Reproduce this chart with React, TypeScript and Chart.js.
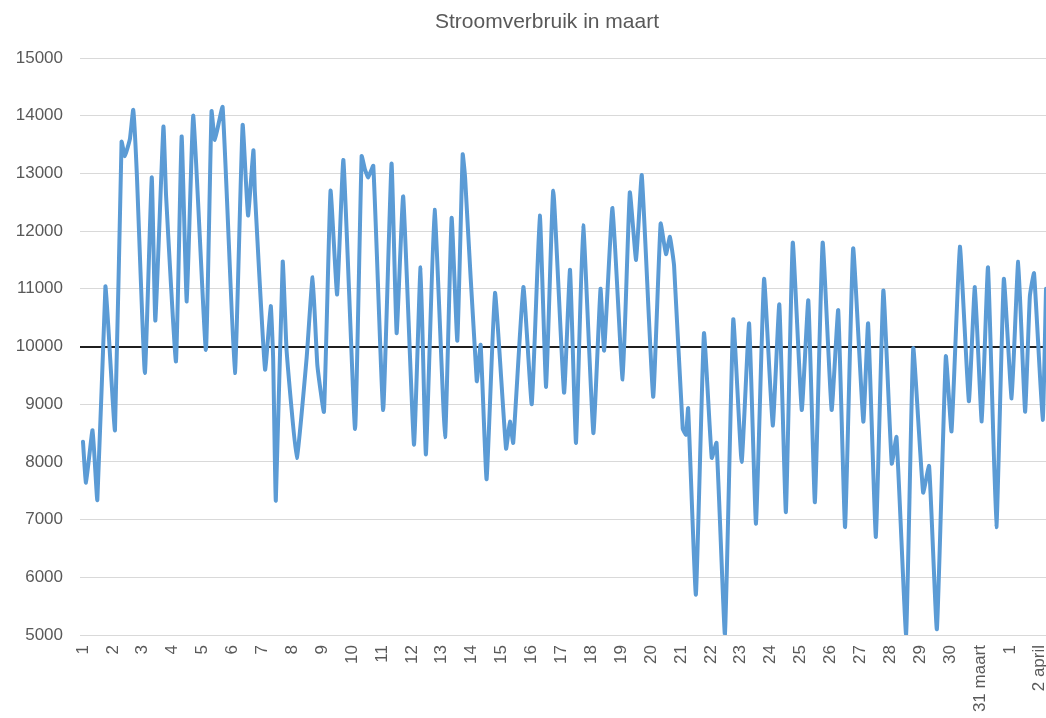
import React, { useEffect, useRef } from 'react';
import { Chart, registerables } from 'chart.js';

Chart.register(...registerables);

const TITLE = 'Stroomverbruik in maart';

const dayLabels = [
  '1', '2', '3', '4', '5', '6', '7', '8', '9', '10',
  '11', '12', '13', '14', '15', '16', '17', '18', '19', '20',
  '21', '22', '23', '24', '25', '26', '27', '28', '29', '30',
  '31 maart', '1', '2 april',
];

// time positions (day of month, fractional) of the sampled turning points
const sampleDays = [
  1.0, 1.1, 1.32, 1.48, 1.75, 1.84, 2.07, 2.29, 2.4, 2.57,
  2.68, 2.8, 3.07, 3.3, 3.42, 3.69, 3.78, 4.11, 4.3, 4.47,
  4.69, 5.11, 5.3, 5.41, 5.67, 6.08, 6.34, 6.52, 6.7, 6.75,
  7.09, 7.28, 7.36, 7.45, 7.68, 7.81, 8.15, 8.48, 8.68, 8.84,
  9.06, 9.28, 9.5, 9.71, 10.1, 10.32, 10.43, 10.54, 10.71, 11.04,
  11.32, 11.49, 11.71, 12.07, 12.29, 12.47, 12.76, 13.11, 13.33, 13.52,
  13.7, 13.78, 14.17, 14.3, 14.5, 14.78, 15.15, 15.28, 15.39, 15.73,
  16.01, 16.28, 16.49, 16.73, 17.09, 17.29, 17.49, 17.73, 18.07, 18.31,
  18.43, 18.71, 19.05, 19.29, 19.5, 19.69, 20.07, 20.32, 20.5, 20.63,
  20.77, 21.06, 21.17, 21.24, 21.5, 21.77, 22.03, 22.19, 22.47, 22.75,
  23.03, 23.28, 23.51, 23.78, 24.07, 24.29, 24.51, 24.74, 25.04, 25.26,
  25.48, 25.74, 26.04, 26.26, 26.49, 26.76, 27.1, 27.26, 27.52, 27.77,
  28.05, 28.21, 28.53, 28.77, 29.1, 29.3, 29.56, 29.86, 30.05, 30.33,
  30.63, 30.83, 31.06, 31.27, 31.55, 31.8, 32.06, 32.28, 32.51, 32.67,
  32.81, 33.1, 33.21,
];

// electricity use at those moments
const usage = [
  8350, 7640, 8550, 7340, 11040, 10400, 8550, 13550, 13300, 13600,
  14100, 13000, 9540, 12930, 10450, 13810, 12600, 9740, 13640, 10780,
  14000, 9940, 14080, 13580, 14150, 9540, 13840, 12270, 13400, 12670,
  9600, 10700, 9800, 7330, 11470, 9930, 8070, 9800, 11200, 9670,
  8870, 12700, 10900, 13230, 8570, 13300, 13070, 12930, 13130, 8900,
  13170, 10230, 12600, 8300, 11370, 8130, 12370, 8430, 12230, 10100,
  13330, 12930, 9400, 10030, 7700, 10930, 8230, 8700, 8330, 11030,
  9000, 12270, 9300, 12700, 9200, 11330, 8330, 12100, 8500, 11000,
  9930, 12400, 9430, 12670, 11500, 12970, 9130, 12130, 11600, 11900,
  11400, 8570, 8470, 8930, 5700, 10230, 8070, 8330, 5000, 10470,
  8000, 10400, 6930, 11170, 8630, 10730, 7130, 11800, 8900, 10800,
  7300, 11800, 8900, 10630, 6870, 11700, 8700, 10400, 6700, 10970,
  7970, 8430, 5000, 9970, 7470, 7930, 5100, 9830, 8530, 11730,
  9050, 11030, 8700, 11370, 6870, 11170, 9100, 11470, 8870, 10870,
  11270, 8730, 11000,
];

const yTicks = [5000, 6000, 7000, 8000, 9000, 10000, 11000, 12000, 13000, 14000, 15000];
const referenceLevel = 10000;

const FONT = "'Liberation Sans', Arial, sans-serif";
const TEXT = '#595959';

// The original chart was cropped on the right; its title sits centred on the full chart.
const titlePlugin = {
  id: 'croppedTitle',
  afterDraw(chart: any) {
    const { ctx } = chart;
    ctx.save();
    ctx.fillStyle = TEXT;
    ctx.font = `21px ${FONT}`;
    ctx.textAlign = 'center';
    ctx.textBaseline = 'middle';
    ctx.fillText(TITLE, chart.width / 2 + 24, 22);
    ctx.restore();
  },
};

export default function App() {
  const ref = useRef<HTMLCanvasElement>(null);

  useEffect(() => {
    if (!ref.current) return;
    const points = sampleDays.map((d, i) => ({ x: d, y: usage[i] }));
    const chart = new Chart(ref.current, {
      type: 'line',
      data: {
        datasets: [
          {
            label: 'Stroomverbruik',
            data: points,
            borderColor: '#5B9BD5',
            backgroundColor: '#5B9BD5',
            borderWidth: 4,
            pointRadius: 0,
            tension: 0.12,
            fill: false,
            borderJoinStyle: 'round',
            borderCapStyle: 'round',
          },
        ],
      },
      plugins: [titlePlugin],
      options: {
        animation: false,
        responsive: true,
        maintainAspectRatio: false,
        layout: { padding: { left: 0, right: 0, top: 58, bottom: 0 } },
        plugins: {
          legend: { display: false },
          tooltip: { enabled: false },
          title: { display: false },
        },
        scales: {
          x: {
            type: 'linear',
            min: 0.9,
            max: 33.21,
            grid: { display: false, drawTicks: false },
            border: { display: false },
            afterBuildTicks: (s: any) => {
              s.ticks = dayLabels.map((_, i) => ({ value: i + 1 }));
            },
            afterFit: (s: any) => {
              s.paddingRight = 0;
              s.height = 83;
            },
            ticks: {
              autoSkip: false,
              minRotation: 90,
              maxRotation: 90,
              padding: 10,
              color: TEXT,
              font: { family: FONT, size: 17 },
              callback: (v: any) => dayLabels[Math.round(Number(v)) - 1] ?? '',
            },
          },
          y: {
            min: 5000,
            max: 15000,
            afterBuildTicks: (s: any) => {
              s.ticks = yTicks.map((v) => ({ value: v }));
            },
            afterFit: (s: any) => {
              s.width = 80;
              s.paddingTop = 0;
            },
            grid: {
              drawTicks: false,
              color: (ctx: any) => (ctx.tick && ctx.tick.value === referenceLevel ? '#1f1f1f' : '#d9d9d9'),
              lineWidth: (ctx: any) => (ctx.tick && ctx.tick.value === referenceLevel ? 2 : 1),
            },
            border: { display: false },
            ticks: {
              padding: 17,
              color: TEXT,
              font: { family: FONT, size: 17 },
              callback: (v: any) => String(v),
            },
          },
        },
      },
    });
    return () => chart.destroy();
  }, []);

  return (
    <div style={{ position: 'absolute', left: 0, top: 0, width: 1046, height: 718, background: '#fff' }}>
      <canvas ref={ref} />
    </div>
  );
}
